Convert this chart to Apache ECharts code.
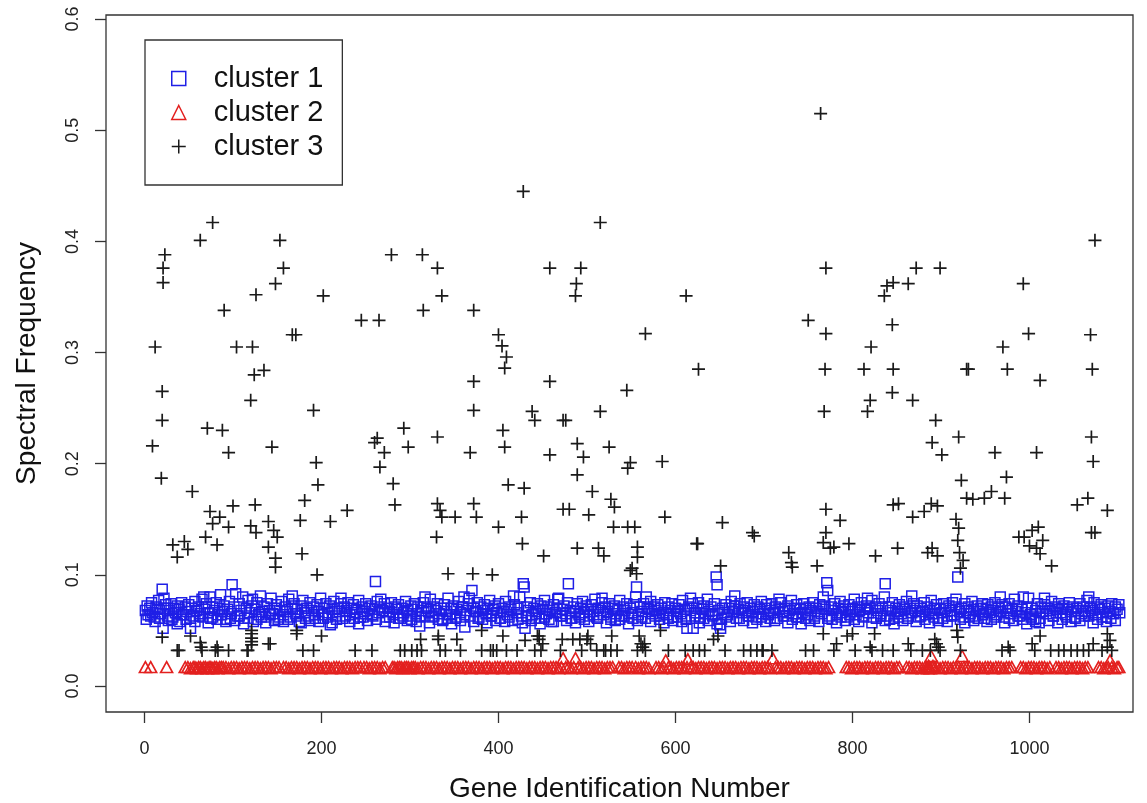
<!DOCTYPE html>
<html>
<head>
<meta charset="utf-8">
<script src="https://cdn.jsdelivr.net/npm/echarts@6/dist/echarts.min.js"></script>
<style>
  html, body { margin: 0; padding: 0; background: #fff; }
  #chart { width: 1147px; height: 803px; }
</style>
</head>
<body>
<div id="chart"></div>
<script>
// Spectral frequency per gene, grouped into three clusters: [gene id, frequency]
const cluster1 = [
  [1,.068],[3,.072],[4,.064],[6,.070],[8,.075],[9,.066],[11,.062],[13,.071],[15,.069],[16,.077],
  [18,.065],[20,.087],[21,.052],[22,.070],[24,.073],[26,.063],[28,.068],[30,.074],[31,.060],[33,.070],
  [35,.066],[37,.072],[39,.069],[40,.058],[42,.075],[44,.064],[46,.071],[48,.067],[50,.073],[52,.052],
  [53,.070],[55,.063],[57,.076],[59,.068],[61,.071],[63,.065],[65,.078],[66,.062],[68,.069],[70,.074],
  [72,.066],[74,.080],[75,.061],[77,.071],[79,.068],[81,.075],[83,.064],[85,.070],[86,.082],[88,.067],
  [90,.072],[92,.060],[94,.069],[96,.076],[98,.065],[99,.091],[101,.071],[103,.083],[105,.063],[107,.074],
  [109,.068],[111,.080],[113,.061],[115,.070],[117,.077],[119,.066],[121,.072],[123,.058],[125,.069],[127,.075],
  [129,.064],[131,.081],[133,.067],[135,.071],[137,.062],[139,.074],[141,.068],[143,.079],[145,.065],[147,.070],
  [149,.073],[151,.060],[153,.068],[155,.076],[157,.064],[159,.071],[161,.067],[163,.078],[165,.062],[167,.070],
  [169,.074],[171,.065],[173,.069],[175,.058],[177,.072],[179,.077],[181,.066],[183,.070],[185,.063],[187,.075],
  [189,.068],[191,.071],[193,.061],[195,.073],[197,.067],[199,.079],[201,.064],[203,.070],[205,.074],[207,.066],
  [209,.072],[210,.055],[212,.069],[214,.076],[216,.063],[218,.070],[220,.067],[222,.074],[224,.061],[226,.071],
  [228,.068],[230,.075],[232,.064],[234,.070],[236,.073],[238,.066],[240,.069],[242,.077],[244,.062],[246,.071],
  [248,.067],[250,.074],[252,.065],[254,.070],[256,.072],[258,.063],[260,.069],[261,.094],[263,.076],[265,.066],
  [267,.071],[269,.068],[271,.074],[273,.062],[275,.070],[277,.067],[279,.075],[281,.064],[283,.071],[285,.069],
  [287,.073],[289,.061],[291,.070],[293,.066],[295,.076],[297,.068],[299,.063],[301,.072],[303,.069],[305,.074],
  [307,.065],[309,.071],[311,.054],[313,.068],[315,.075],[317,.063],[319,.070],[321,.067],[323,.078],[325,.062],
  [327,.071],[329,.068],[331,.074],[333,.065],[335,.070],[337,.060],[339,.073],[341,.067],[343,.079],[345,.064],
  [347,.070],[349,.072],[351,.061],[353,.069],[355,.076],[357,.066],[359,.071],[361,.080],[362,.053],[364,.068],
  [366,.074],[368,.063],[370,.086],[372,.070],[374,.067],[376,.075],[378,.062],[380,.071],[382,.068],[384,.073],
  [386,.065],[388,.070],[390,.077],[392,.063],[394,.069],[396,.072],[398,.066],[400,.074],[402,.061],[404,.070],
  [406,.067],[408,.076],[410,.064],[412,.071],[414,.069],[416,.059],[418,.073],[420,.066],[422,.070],[424,.080],
  [426,.063],[428,.092],[429,.089],[430,.052],[432,.071],[434,.068],[436,.075],[438,.064],[440,.070],[442,.067],
  [444,.074],[446,.061],[448,.072],[450,.069],[452,.077],[454,.065],[456,.071],[458,.068],[460,.058],[462,.073],
  [464,.066],[466,.070],[468,.079],[470,.063],[472,.069],[474,.072],[476,.065],[478,.075],[479,.092],[481,.068],
  [483,.061],[485,.071],[487,.067],[489,.074],[491,.064],[493,.070],[495,.076],[497,.066],[499,.072],[501,.069],
  [503,.063],[505,.073],[507,.067],[509,.078],[511,.062],[513,.070],[515,.068],[517,.075],[519,.064],[521,.071],
  [523,.067],[525,.074],[527,.060],[529,.070],[531,.072],[533,.065],[535,.069],[537,.077],[539,.063],[541,.071],
  [543,.068],[545,.074],[547,.062],[549,.070],[551,.066],[553,.073],[555,.080],[556,.089],[558,.064],[560,.071],
  [562,.067],[564,.074],[566,.061],[568,.070],[570,.069],[572,.076],[574,.065],[576,.071],[578,.068],[580,.073],
  [582,.063],[584,.070],[586,.066],[588,.075],[590,.064],[592,.071],[594,.068],[596,.074],[598,.062],[600,.070],
  [602,.067],[604,.073],[606,.065],[608,.077],[610,.069],[612,.063],[613,.052],[615,.071],[617,.068],[619,.074],
  [620,.052],[622,.066],[624,.070],[626,.075],[628,.062],[630,.069],[632,.072],[634,.065],[636,.078],[638,.067],
  [640,.071],[642,.063],[644,.074],[646,.098],[647,.091],[648,.068],[650,.055],[651,.052],[653,.070],[655,.066],
  [657,.073],[659,.064],[661,.070],[663,.076],[665,.067],[667,.072],[669,.061],[671,.069],[673,.074],[675,.066],
  [677,.071],[679,.068],[681,.075],[683,.063],[685,.070],[687,.067],[689,.073],[691,.062],[693,.071],[695,.069],
  [697,.076],[699,.065],[701,.070],[703,.073],[705,.064],[707,.068],[709,.074],[711,.066],[713,.071],[715,.061],
  [717,.069],[719,.075],[721,.067],[723,.070],[725,.063],[727,.072],[729,.068],[731,.077],[733,.065],[735,.070],
  [737,.073],[739,.062],[741,.069],[743,.066],[745,.074],[747,.070],[749,.064],[751,.071],[753,.068],[755,.075],
  [757,.061],[759,.070],[761,.067],[763,.073],[765,.065],[767,.072],[769,.069],[771,.093],[772,.086],[774,.063],
  [776,.071],[778,.068],[780,.074],[782,.064],[784,.070],[786,.076],[788,.066],[790,.072],[792,.069],[794,.062],
  [796,.073],[798,.067],[800,.070],[802,.078],[804,.064],[806,.071],[808,.068],[810,.075],[812,.063],[814,.069],
  [816,.072],[818,.066],[820,.070],[822,.077],[824,.062],[826,.071],[828,.068],[830,.074],[832,.065],[834,.070],
  [836,.080],[837,.092],[839,.063],[841,.071],[843,.068],[845,.075],[847,.061],[849,.070],[851,.067],[853,.073],
  [855,.065],[857,.071],[859,.069],[861,.076],[863,.063],[865,.070],[867,.066],[869,.074],[871,.068],[873,.072],
  [875,.062],[877,.070],[879,.067],[881,.075],[883,.064],[885,.071],[887,.068],[889,.077],[891,.065],[893,.070],
  [895,.073],[897,.061],[899,.069],[901,.066],[903,.074],[905,.070],[907,.063],[909,.072],[911,.068],[913,.075],
  [915,.064],[917,.071],[919,.098],[921,.067],[923,.070],[925,.062],[927,.074],[929,.068],[931,.071],[933,.065],
  [935,.076],[937,.069],[939,.063],[941,.072],[943,.067],[945,.070],[947,.074],[949,.061],[951,.069],[953,.073],
  [955,.066],[957,.071],[959,.068],[961,.075],[963,.064],[965,.070],[967,.067],[969,.073],[971,.062],[973,.071],
  [975,.068],[977,.074],[979,.065],[981,.070],[983,.078],[985,.067],[987,.072],[989,.063],[991,.069],[993,.080],
  [995,.066],[997,.071],[999,.079],[1001,.064],[1003,.070],[1005,.060],[1007,.068],[1009,.074],[1011,.057],[1013,.071],
  [1015,.067],[1017,.073],[1019,.065],[1021,.070],[1023,.068],[1025,.076],[1027,.063],[1029,.071],[1031,.069],[1033,.074],
  [1035,.066],[1037,.070],[1039,.072],[1041,.064],[1043,.069],[1045,.075],[1047,.067],[1049,.071],[1051,.062],[1053,.070],
  [1055,.068],[1057,.074],[1059,.065],[1061,.071],[1063,.067],[1065,.077],[1067,.063],[1069,.070],[1071,.068],[1073,.075],
  [1075,.064],[1077,.071],[1079,.069],[1081,.073],[1083,.066],[1085,.070],[1087,.062],[1089,.072],[1091,.067],[1093,.074],
  [1095,.065],[1097,.071],[1099,.069],[1101,.073],[1102,.066],
  [2,.060],[7,.063],[12,.058],[17,.061],[22,.079],[27,.059],[32,.062],[37,.056],[42,.064],[47,.060],
  [52,.061],[57,.058],[62,.063],[67,.080],[72,.057],[77,.062],[82,.060],[87,.064],[92,.058],[97,.061],
  [102,.059],[107,.063],[112,.056],[117,.061],[122,.078],[127,.060],[132,.062],[137,.057],[142,.064],[147,.059],
  [152,.062],[157,.058],[162,.060],[167,.081],[172,.063],[177,.057],[182,.061],[187,.059],[192,.064],[197,.058],
  [202,.061],[207,.062],[212,.057],[217,.060],[222,.079],[227,.063],[232,.058],[237,.061],[242,.056],[247,.062],
  [252,.059],[257,.064],[262,.060],[267,.078],[272,.058],[277,.062],[282,.057],[287,.061],[292,.063],[297,.059],
  [302,.060],[307,.058],[312,.062],[317,.080],[322,.057],[327,.063],[332,.060],[337,.059],[342,.061],[347,.056],
  [352,.062],[357,.059],[362,.064],[367,.079],[372,.058],[377,.061],[382,.060],[387,.057],[392,.063],[397,.059],
  [402,.061],[407,.058],[412,.062],[417,.081],[422,.060],[427,.057],[432,.063],[437,.059],[442,.061],[447,.056],
  [452,.062],[457,.060],[462,.058],[467,.078],[472,.063],[477,.059],[482,.061],[487,.057],[492,.062],[497,.060],
  [502,.058],[507,.064],[512,.061],[517,.079],[522,.057],[527,.062],[532,.059],[537,.060],[542,.063],[547,.056],
  [552,.061],[557,.059],[562,.062],[567,.080],[572,.058],[577,.063],[582,.060],[587,.057],[592,.061],[597,.059],
  [602,.062],[607,.058],[612,.060],[617,.079],[622,.063],[627,.057],[632,.061],[637,.059],[642,.064],[647,.056],
  [652,.060],[657,.062],[662,.058],[667,.081],[672,.061],[677,.059],[682,.063],[687,.057],[692,.060],[697,.062],
  [702,.058],[707,.061],[712,.059],[717,.078],[722,.063],[727,.057],[732,.060],[737,.062],[742,.056],[747,.061],
  [752,.059],[757,.063],[762,.058],[767,.080],[772,.061],[777,.060],[782,.057],[787,.062],[792,.059],[797,.064],
  [802,.060],[807,.058],[812,.062],[817,.079],[822,.057],[827,.061],[832,.063],[837,.059],[842,.060],[847,.056],
  [852,.062],[857,.059],[862,.061],[867,.081],[872,.058],[877,.063],[882,.060],[887,.057],[892,.062],[897,.059],
  [902,.061],[907,.058],[912,.063],[917,.078],[922,.060],[927,.057],[932,.062],[937,.059],[942,.061],[947,.064],
  [952,.058],[957,.060],[962,.062],[967,.080],[972,.057],[977,.061],[982,.059],[987,.063],[992,.060],[997,.056],
  [1002,.062],[1007,.058],[1012,.061],[1017,.079],[1022,.059],[1027,.063],[1032,.057],[1037,.060],[1042,.062],[1047,.058],
  [1052,.061],[1057,.059],[1062,.063],[1067,.080],[1072,.057],[1077,.060],[1082,.062],[1087,.058],[1092,.061],[1097,.059]
];

const cluster2 = [
  [1,.017],[7,.017],[25,.017],
  [46,.017],[49,.017],[52,.016],[55,.017],[57,.017],[59,.016],[61,.017],[63,.017],[65,.016],[67,.017],
  [69,.017],[71,.016],[73,.017],[75,.017],[77,.016],[79,.017],[81,.017],[83,.016],[85,.017],[87,.017],
  [89,.017],[92,.017],[95,.016],[98,.017],[101,.017],[104,.017],[107,.016],[110,.017],[113,.017],[116,.017],
  [119,.016],[122,.017],[125,.017],[128,.017],[131,.016],[134,.017],[137,.017],[140,.017],[143,.016],[146,.017],
  [149,.017],[152,.017],
  [157,.017],[160,.017],[163,.016],[166,.017],[169,.017],[172,.017],[175,.016],[178,.017],[181,.017],[184,.017],
  [187,.016],[190,.017],[193,.017],[196,.017],[199,.016],[202,.017],[205,.017],[208,.017],[211,.016],[214,.017],
  [217,.017],[220,.017],[223,.016],[226,.017],[229,.017],[232,.017],[235,.016],[238,.017],[241,.017],[244,.017],
  [248,.017],[251,.017],[254,.016],[257,.017],[260,.017],[263,.017],[266,.016],[269,.017],[272,.017],
  [280,.017],[282,.017],[284,.016],[286,.017],[288,.017],[290,.017],[292,.016],[294,.017],[296,.017],[298,.017],
  [300,.016],[302,.017],[304,.017],[306,.017],[309,.016],[312,.017],[315,.017],[318,.017],[321,.016],[324,.017],
  [327,.017],[330,.017],[333,.016],[336,.017],[339,.017],[342,.017],[345,.016],[348,.017],[351,.017],[354,.017],
  [357,.016],[360,.017],[363,.017],[366,.017],[369,.016],[372,.017],[375,.017],[378,.017],[381,.016],[384,.017],
  [387,.017],[390,.017],[393,.016],[396,.017],[399,.017],[402,.017],[405,.016],[408,.017],[411,.017],[414,.017],
  [417,.016],[420,.017],[423,.017],[426,.017],
  [429,.017],[432,.016],[435,.017],[438,.017],[441,.017],[444,.016],[447,.017],[450,.017],[453,.017],[456,.016],
  [459,.017],[462,.017],[465,.017],[468,.016],[471,.017],[473,.025],[476,.017],[479,.017],[482,.016],[485,.017],
  [487,.025],[490,.017],[493,.017],[496,.016],[499,.017],[502,.017],[505,.017],[508,.016],[511,.017],[514,.017],
  [517,.017],[520,.016],[523,.017],[526,.017],[529,.017],
  [536,.017],[539,.017],[542,.016],[545,.017],[548,.017],[551,.017],
  [555,.017],[558,.016],[561,.017],[564,.017],[567,.017],[570,.016],
  [578,.017],[581,.017],[584,.016],[587,.017],[589,.023],[592,.017],[595,.017],[598,.016],[601,.017],[604,.017],
  [607,.017],[610,.016],[613,.017],[614,.024],[617,.017],[620,.017],[623,.016],[626,.017],[629,.017],[632,.017],
  [635,.016],[638,.017],[641,.017],[644,.017],[647,.016],[650,.017],[653,.017],[656,.017],[659,.016],[662,.017],
  [665,.017],[668,.017],[671,.016],[674,.017],[677,.017],[680,.017],[683,.016],[686,.017],[689,.017],[692,.017],
  [695,.016],[698,.017],[701,.017],[704,.017],[707,.016],[710,.025],[713,.017],[716,.017],[719,.017],[722,.016],
  [725,.017],[728,.017],[731,.017],[734,.016],[737,.017],[740,.017],[743,.017],[746,.016],[749,.017],[752,.017],
  [755,.017],[758,.016],[761,.017],[764,.017],[767,.017],[770,.016],[773,.017],
  [793,.017],[796,.017],[799,.016],[802,.017],[805,.017],[808,.017],[811,.016],[814,.017],[817,.017],[820,.017],
  [823,.016],[826,.017],[829,.017],[832,.017],[835,.016],[838,.017],[841,.017],[844,.017],[847,.016],[850,.017],
  [853,.017],
  [861,.017],[864,.017],[867,.016],[870,.017],[873,.017],[876,.017],[879,.016],[882,.017],[884,.017],[885,.016],
  [886,.018],[887,.017],[888,.016],[889,.027],[890,.017],[891,.018],[893,.017],[896,.017],[899,.016],[902,.017],
  [905,.017],[908,.017],[911,.016],[914,.017],[917,.017],[920,.017],[923,.016],[924,.027],[926,.017],[929,.017],
  [932,.017],[935,.016],[938,.017],[941,.017],[944,.017],[947,.016],[950,.017],[953,.017],[956,.017],[959,.016],
  [962,.017],[965,.017],[968,.017],[971,.016],[974,.017],[977,.017],[980,.017],
  [990,.017],[993,.017],[996,.016],[999,.017],[1002,.017],[1005,.017],[1008,.016],[1011,.017],[1014,.017],[1017,.017],
  [1020,.016],[1023,.017],
  [1030,.017],[1033,.017],[1036,.016],[1039,.017],[1042,.017],[1045,.017],[1048,.016],[1051,.017],[1054,.017],[1057,.017],
  [1060,.016],[1063,.017],[1066,.017],
  [1078,.017],[1081,.017],[1084,.016],[1087,.017],[1089,.017],[1091,.023],[1093,.017],[1096,.016],[1099,.017],[1101,.017]
];

// high-frequency members of cluster 3
const cluster3High = [
  [9,.216],[12,.305],[21,.376],[21,.363],[23,.388],[20,.265],[20,.239],[19,.187],[32,.127],[37,.116],
  [45,.130],[49,.123],[54,.175],[63,.401],[69,.134],[71,.232],[77,.417],[74,.157],[77,.146],[85,.152],
  [88,.230],[90,.338],[95,.210],[100,.162],[104,.305],[95,.143],[82,.127],[120,.257],[122,.305],[124,.280],
  [126,.352],[125,.163],[120,.144],[126,.138],[135,.284],[140,.148],[144,.215],[148,.362],[153,.401],[157,.376],
  [146,.140],[150,.134],[140,.125],[148,.115],[148,.107],[178,.119],
  [167,.316],[171,.316],[176,.149],[181,.167],[191,.248],[194,.201],[196,.181],[195,.100],[202,.351],[210,.148],
  [229,.158],[245,.329],[260,.219],[263,.223],[265,.329],[271,.210],[266,.197],[279,.388],[281,.182],[283,.163],
  [293,.232],[298,.215],[315,.338],[314,.388],[331,.376],[331,.224],[331,.164],[330,.134],[334,.158],[336,.351],
  [336,.152],[343,.101],[351,.152],[368,.210],[372,.248],[372,.274],[372,.338],[372,.164],[375,.152],[371,.101],
  [393,.100],[400,.316],[404,.306],[405,.230],[407,.286],[409,.296],[411,.181],[407,.215],[400,.143],[428,.445],
  [429,.178],[427,.128],[426,.152],[438,.247],[441,.239],[451,.117],[458,.376],[458,.274],[458,.208],[473,.239],
  [476,.239],[473,.159],[480,.159],[487,.351],[488,.362],[489,.190],[489,.218],[493,.376],[489,.124],[496,.206],
  [502,.154],[506,.175],[515,.247],[515,.417],[513,.124],[519,.117],[525,.215],[527,.168],[531,.161],[530,.143],
  [545,.266],[546,.196],[549,.201],[546,.143],[554,.143],[551,.106],[549,.104],[556,.101],[557,.125],[557,.116],
  [566,.317],[585,.202],[588,.152],[612,.351],[626,.285],[624,.128],[625,.128],[651,.108],[653,.147],[687,.138],
  [689,.135],[728,.120],[731,.111],[732,.107],[750,.329],[764,.515],[768,.247],[769,.285],[770,.317],[770,.376],
  [770,.159],[770,.138],[767,.129],[775,.124],[760,.108],[779,.125],[786,.149],[796,.128],[813,.285],[817,.247],
  [820,.257],[821,.305],[826,.117],[836,.351],[839,.360],[845,.325],[845,.264],[846,.285],[846,.363],[846,.163],
  [852,.164],[851,.124],[863,.362],[868,.152],[868,.257],[872,.376],[881,.157],[885,.120],[894,.239],[890,.219],
  [889,.164],[896,.162],[899,.376],[901,.208],[896,.117],[890,.124],[920,.224],[917,.150],[920,.142],[923,.185],
  [929,.169],[929,.285],[931,.285],[919,.131],[921,.120],[925,.113],[922,.106],[936,.168],[949,.169],[961,.210],
  [957,.175],[970,.305],[972,.169],[974,.188],[975,.285],[988,.134],[993,.362],[994,.134],[999,.317],[1000,.126],
  [1003,.140],[1008,.124],[1008,.210],[1010,.143],[1012,.275],[1012,.119],[1015,.131],[1025,.108],[1054,.163],[1066,.169],
  [1069,.316],[1070,.224],[1071,.285],[1072,.202],[1074,.401],[1070,.138],[1074,.138],[1088,.158]
];

// low-frequency members of cluster 3
const cluster3Low = [
  [20,.044],[37,.032],[39,.032],[52,.045],[63,.039],[64,.035],[65,.032],[80,.032],[82,.035],[83,.032],
  [95,.032],[116,.032],[117,.032],[121,.050],[121,.047],[121,.043],[121,.040],[121,.037],[140,.038],[142,.038],
  [172,.050],[172,.047],[179,.032],[191,.032],[200,.045],[238,.032],[257,.032],[289,.032],[294,.032],[302,.032],
  [308,.032],[312,.042],[313,.032],[332,.045],[332,.042],[334,.032],[340,.032],[353,.042],[357,.032],[381,.050],
  [381,.032],[391,.032],[394,.032],[398,.032],[405,.045],[409,.032],[421,.032],[430,.041],[441,.032],[444,.045],
  [446,.045],[446,.042],[448,.032],[450,.038],[470,.032],[472,.042],[484,.042],[492,.042],[494,.032],[500,.042],
  [501,.045],[504,.038],[511,.032],[519,.032],[521,.032],[527,.032],[528,.045],[534,.032],[557,.032],[559,.045],
  [561,.038],[563,.035],[565,.038],[566,.032],[583,.050],[592,.032],[611,.032],[620,.032],[627,.032],[633,.032],
  [643,.042],[648,.045],[656,.032],[677,.032],[685,.032],[692,.032],[698,.032],[699,.032],[709,.032],[747,.032],
  [756,.032],[767,.047],[779,.032],[782,.038],[794,.045],[800,.047],[803,.032],[820,.035],[822,.032],[825,.047],
  [834,.032],[846,.032],[863,.038],[866,.032],[879,.032],[888,.032],[893,.042],[895,.038],[897,.035],[899,.032],
  [918,.050],[919,.044],[922,.032],[969,.032],[976,.035],[978,.032],[1003,.038],[1006,.032],[1012,.045],[1024,.032],
  [1033,.032],[1039,.032],[1047,.032],[1054,.032],[1061,.032],[1067,.032],[1072,.038],[1082,.032],[1088,.047],[1088,.035],
  [1091,.041],[1093,.032]
];

const xTicks = [0, 200, 400, 600, 800, 1000];
const yTicks = [0, 0.1, 0.2, 0.3, 0.4, 0.5, 0.6];
const seriesNames = ['cluster 1', 'cluster 2', 'cluster 3'];

const FONT = '"Liberation Sans", Arial, Helvetica, sans-serif';
const BLUE = '#1f1fe6';
const RED = '#e3201f';
const BLACK = '#1a1a1a';
const PLUS = 'path://M0,6L12,6M6,0L6,12';

const chart = echarts.init(document.getElementById('chart'), null, { renderer: 'canvas' });

const hollow = (c, w) => ({ color: 'rgba(0,0,0,0)', borderColor: c, borderWidth: w, opacity: 1 });

chart.setOption({
  animation: false,
  backgroundColor: '#ffffff',
  textStyle: { fontFamily: FONT },
  grid: {
    left: 106, right: 14, top: 15, bottom: 91,
    containLabel: false, outerBoundsMode: 'none',
    show: true, borderColor: '#333', borderWidth: 1.3, backgroundColor: 'transparent'
  },
  legend: {
    orient: 'vertical',
    left: 145, top: 40,
    padding: [24, 19, 24, 26],
    itemWidth: 14, itemHeight: 14, itemGap: 5,
    borderColor: '#333', borderWidth: 1.3,
    selectedMode: false,
    textStyle: { fontSize: 29, lineHeight: 27, color: '#111', fontFamily: FONT, padding: [0, 0, 0, 23] },
    data: [
      { name: seriesNames[0], icon: 'rect', itemStyle: hollow(BLUE, 1.5) },
      { name: seriesNames[1], icon: 'triangle', itemStyle: hollow(RED, 1.5) },
      { name: seriesNames[2], icon: PLUS, itemStyle: hollow(BLACK, 1.5) }
    ]
  },
  xAxis: {
    type: 'value',
    min: -43.5, max: 1117,
    name: 'Gene Identification Number',
    nameLocation: 'middle', nameGap: 63,
    nameTextStyle: { fontSize: 28, color: '#111', fontFamily: FONT },
    splitLine: { show: false },
    axisLine: { show: false, onZero: false },
    axisTick: { show: true, length: 11, customValues: xTicks, lineStyle: { color: '#333', width: 1.3 } },
    axisLabel: {
      customValues: xTicks, margin: 28, fontSize: 18, color: '#222', fontFamily: FONT,
      formatter: v => String(v)
    }
  },
  yAxis: {
    type: 'value',
    min: -0.0234, max: 0.6037,
    name: 'Spectral Frequency',
    nameLocation: 'middle', nameGap: 65,
    nameTextStyle: { fontSize: 28, color: '#111', fontFamily: FONT },
    splitLine: { show: false },
    axisLine: { show: false, onZero: false },
    axisTick: { show: true, length: 11, customValues: yTicks, lineStyle: { color: '#333', width: 1.3 } },
    axisLabel: {
      customValues: yTicks, rotate: 90, margin: 24, fontSize: 18, color: '#222', fontFamily: FONT,
      formatter: v => v.toFixed(1)
    }
  },
  series: [
    {
      name: seriesNames[0], type: 'scatter', symbol: 'rect', symbolSize: 10,
      itemStyle: hollow(BLUE, 1.5), data: cluster1, z: 2
    },
    {
      name: seriesNames[1], type: 'scatter', symbol: 'triangle', symbolSize: [12, 11],
      itemStyle: hollow(RED, 1.6), data: cluster2, z: 3
    },
    {
      name: seriesNames[2], type: 'scatter', symbol: PLUS, symbolSize: 13,
      itemStyle: hollow(BLACK, 1.7), data: cluster3High.concat(cluster3Low), z: 4
    }
  ]
});
</script>
</body>
</html>
